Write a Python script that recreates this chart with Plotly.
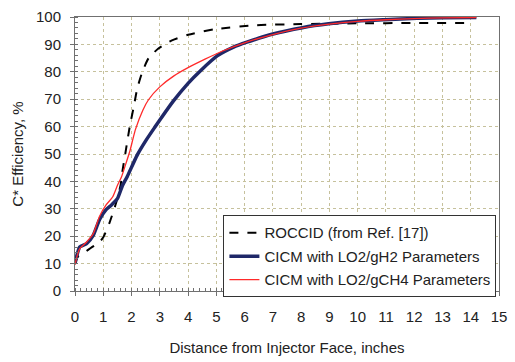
import plotly.graph_objects as go

roccid_x = [0, 0.1, 0.3, 0.6, 0.87, 1.0, 1.22, 1.45, 1.62, 1.68, 1.79, 1.94, 2.08, 2.2, 2.37, 2.6, 2.95, 3.41, 4.0, 4.92, 6.42, 8, 10, 12, 14]
roccid_y = [10, 12.5, 13.8, 16, 17.9, 19.6, 24.9, 32, 39, 43.8, 50.8, 60.2, 67.3, 73.8, 79.6, 84.9, 88.5, 91.4, 93.5, 95.5, 97, 97.4, 97.7, 97.8, 97.8]

gh2_x = [0, 0.08, 0.17, 0.41, 0.64, 0.87, 1.1, 1.3, 1.5, 1.68, 1.85, 2.2, 2.5, 2.84, 3.0, 3.47, 4.0, 4.45, 5.03, 5.61, 6.08, 7.0, 8.04, 8.97, 10.0, 10.94, 12.1, 13, 14.2]
gh2_y = [10, 13.5, 16.1, 17.3, 20.2, 26.1, 29.7, 31.5, 33.7, 38.5, 41.8, 49.6, 54.8, 60, 62.4, 69.2, 75.8, 80.5, 85.8, 89, 90.8, 93.8, 96.1, 97.5, 98.5, 99, 99.5, 99.7, 99.8]

gch4_x = [0, 0.08, 0.17, 0.41, 0.64, 0.87, 1.1, 1.33, 1.5, 1.64, 1.8, 1.94, 2.05, 2.14, 2.4, 2.6, 3.0, 3.5, 4.0, 4.6, 5.2, 6.0, 7.0, 8.0, 9.0, 10.0, 11, 12, 13, 14.2]
gch4_y = [9.5, 13, 15.5, 17.9, 20.8, 27.3, 31.4, 34.3, 38.5, 41.5, 46.5, 51, 55.5, 59, 66, 69.8, 74.5, 78.5, 81.5, 84.6, 87.5, 90.6, 93.6, 95.9, 97.4, 98.4, 99, 99.4, 99.7, 99.8]

names = ["ROCCID (from Ref. [17])", "CICM with LO2/gH2 Parameters", "CICM with LO2/gCH4 Parameters"]

fig = go.Figure()
fig.add_trace(go.Scatter(x=roccid_x, y=roccid_y, mode="lines", name=names[0], legendgroup="a",
                         line=dict(color="black", width=2, dash="dash", shape="spline", smoothing=0.6)))
fig.add_trace(go.Scatter(x=gh2_x, y=gh2_y, mode="lines", name=names[1], legendgroup="b",
                         line=dict(color="#1f2868", width=3.5, shape="spline", smoothing=0.6)))
fig.add_trace(go.Scatter(x=gch4_x, y=gch4_y, mode="lines", name=names[2], legendgroup="c",
                         line=dict(color="#ff2a2a", width=1.3, shape="spline", smoothing=0.6)))

grid = dict(showgrid=True, gridcolor="#c6c19c", gridwidth=1, griddash="dot")
fig.update_xaxes(range=[0, 15], dtick=1, tick0=0, showline=True, linecolor="#707070", linewidth=1, mirror=True,
                 ticks="outside", ticklen=4, tickcolor="#707070", zeroline=False, ticklabelstandoff=8,
                 minor=dict(dtick=0.2, ticks="inside", ticklen=3, tickcolor="#707070", showgrid=False),
                 title=dict(text="Distance from Injector Face, inches", standoff=18,
                            font=dict(size=15, color="#222")),
                 tickfont=dict(size=15, color="#222"), **grid)
fig.update_yaxes(range=[0, 100], dtick=10, tick0=0, showline=True, linecolor="#707070", linewidth=1, mirror=True,
                 ticks="outside", ticklen=4, tickcolor="#707070", zeroline=False, ticklabelstandoff=6,
                 minor=dict(dtick=2, ticks="inside", ticklen=3, tickcolor="#707070", showgrid=False),
                 title=dict(text="C* Efficiency, %", standoff=8, font=dict(size=15, color="#222")),
                 tickfont=dict(size=15, color="#222"), **grid)

fig.update_layout(
    width=515, height=362,
    margin=dict(l=75, r=8, t=14, b=65),
    paper_bgcolor="white", plot_bgcolor="white",
    font=dict(family="Liberation Sans, Arial, sans-serif", color="#222"),
    legend=dict(x=0.35, y=0.276, xanchor="left", yanchor="top", bgcolor="white",
                bordercolor="#333", borderwidth=1, font=dict(size=15, color="#222"),
                traceorder="grouped", tracegroupgap=1, itemwidth=30),
    showlegend=True,
)

fig.write_html("out.html")
